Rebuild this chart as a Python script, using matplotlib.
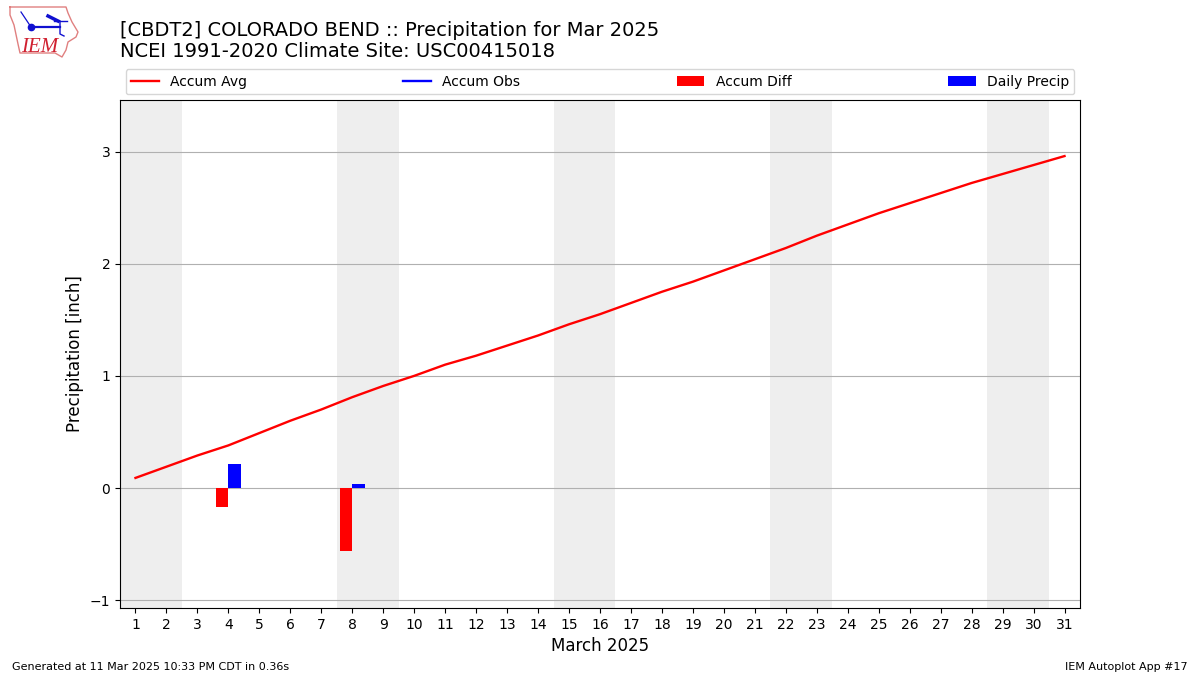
import matplotlib
matplotlib.use("Agg")
import matplotlib.pyplot as plt

days = list(range(1, 32))
accum_avg = [0.09, 0.19, 0.29, 0.38, 0.49, 0.60, 0.70, 0.81, 0.91, 1.00,
             1.10, 1.18, 1.27, 1.36, 1.46, 1.55, 1.65, 1.75, 1.84, 1.94,
             2.04, 2.14, 2.25, 2.35, 2.45, 2.54, 2.63, 2.72, 2.80, 2.88, 2.96]
precip_days = [4, 8]
daily_precip = [0.21, 0.04]
diff_days = [4, 8]
accum_diff = [-0.17, -0.56]
weekends = [(0.5, 2.5), (7.5, 9.5), (14.5, 16.5), (21.5, 23.5), (28.5, 30.5)]

W, H = 1200, 675


def box(left, top, right, bottom):
    return [left / W, 1 - bottom / H, (right - left) / W, (bottom - top) / H]


fig = plt.figure(figsize=(12, 6.75), dpi=100)
ax = fig.add_axes(box(120, 100, 1080, 608))

for start, end in weekends:
    ax.axvspan(start, end, color="#eeeeee", lw=0, zorder=0)

ax.plot(days, accum_avg, color="red", lw=1.7, label="Accum Avg", zorder=3)
# no accumulated obs line is visible in the reference
ax.plot([], [], color="blue", lw=1.7, label="Accum Obs")
ax.bar(diff_days, accum_diff, width=-0.4, align="edge", color="red", label="Accum Diff", zorder=3)
ax.bar(precip_days, daily_precip, width=0.4, align="edge", color="blue", label="Daily Precip", zorder=3)

ax.set_xlim(0.5, 31.5)
ax.set_ylim(-1.07, 3.46)
ax.set_xticks(days)
ax.set_yticks([-1, 0, 1, 2, 3])
ax.set_yticklabels(["\u22121", "0", "1", "2", "3"])
ax.tick_params(labelsize=10)
ax.grid(True, axis="y", color="#b0b0b0", lw=0.8, zorder=1)
ax.set_axisbelow(True)
ax.set_xlabel("March 2025", fontsize=12)
ax.set_ylabel("Precipitation [inch]", fontsize=12)

ax.legend(loc="lower left", bbox_to_anchor=(0, 1.0, 1, 0.1), ncol=4, mode="expand",
          borderaxespad=0.4, fontsize=10)

fig.text(120 / W, 1 - 36 / H, "[CBDT2] COLORADO BEND :: Precipitation for Mar 2025",
         fontsize=14, va="baseline")
fig.text(120 / W, 1 - 57 / H, "NCEI 1991-2020 Climate Site: USC00415018",
         fontsize=14, va="baseline")
fig.text(12 / W, 1 - 670 / H, "Generated at 11 Mar 2025 10:33 PM CDT in 0.36s", fontsize=8)
fig.text(1188 / W, 1 - 670 / H, "IEM Autoplot App #17", fontsize=8, ha="right")

# logo, drawn in pixel space
logo = fig.add_axes(box(0, 0, 90, 62))
logo.set_xlim(0, 90)
logo.set_ylim(62, 0)
logo.axis("off")
outline_x = [10, 66, 68, 72, 78, 76, 68, 66, 62, 55, 20, 18, 14, 10, 10]
outline_y = [7, 7, 13, 22, 32, 37, 42, 50, 57, 53, 53, 44, 25, 15, 7]
logo.plot(outline_x, outline_y, color="#e08080", lw=1)
logo.plot([31, 60], [27, 27], color="#1010d0", lw=1.6)
logo.plot([31], [27], "o", color="#1010d0", ms=4.5)
logo.plot([31, 23, 21], [27, 15, 12], color="#1010d0", lw=0.9)
logo.plot([48, 58], [16, 21], color="#1010d0", lw=2.5)
logo.plot([54, 67], [21, 21], color="#1010d0", lw=1)
logo.plot([60, 60, 64], [21, 34, 36], color="#1010d0", lw=1)
logo.text(21, 52, "IEM", family="Liberation Serif", style="italic", color="#d02030", fontsize=15)

fig.savefig("out.png", dpi=100)
